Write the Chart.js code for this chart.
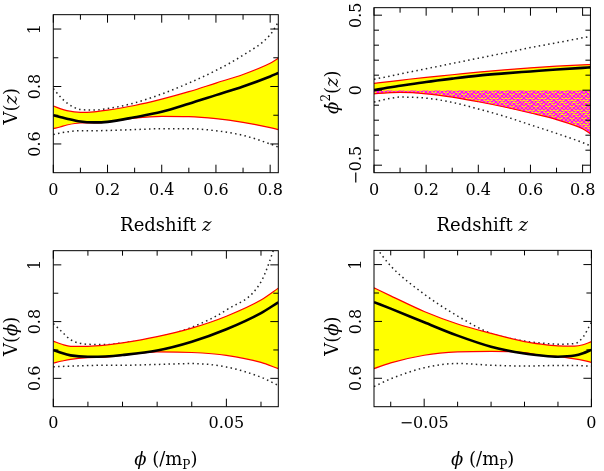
<!DOCTYPE html>
<html><head><meta charset="utf-8">
<script src="https://cdn.jsdelivr.net/npm/chart.js@4.4.0/dist/chart.umd.min.js"></script>
<style>
html,body{margin:0;padding:0;background:#fff;width:604px;height:471px;overflow:hidden}
canvas{position:absolute}
</style></head><body>
<canvas id="c1" style="left:0;top:0;width:302px;height:236px"></canvas>
<canvas id="c2" style="left:302px;top:0;width:302px;height:236px"></canvas>
<canvas id="c3" style="left:0;top:236px;width:302px;height:235px"></canvas>
<canvas id="c4" style="left:302px;top:236px;width:302px;height:235px"></canvas>
<script>
// ---------- data ----------
// Panel 1: V(z)
const z1      = [0, 0.025, 0.05, 0.1, 0.15, 0.2, 0.3, 0.4, 0.5, 0.6, 0.7, 0.8, 0.83];
const vzMean  = [0.700,0.694,0.688,0.678,0.675,0.677,0.693,0.712,0.740,0.770,0.800,0.835,0.847];
const vzUp    = [0.732,0.723,0.716,0.710,0.712,0.718,0.734,0.756,0.782,0.812,0.842,0.881,0.898];
const vzLo    = [0.653,0.659,0.666,0.673,0.673,0.677,0.690,0.696,0.695,0.688,0.675,0.657,0.650];
const vzDotUp = [0.793,0.765,0.743,0.720,0.718,0.723,0.743,0.774,0.812,0.856,0.909,0.980,1.024];
const vzDotLo = [0.633,0.638,0.642,0.646,0.646,0.647,0.650,0.653,0.653,0.646,0.630,0.600,0.589];
// Panel 2: phidot^2(z)
const z2      = [0, 0.05, 0.1, 0.2, 0.3, 0.4, 0.5, 0.6, 0.7, 0.8, 0.83];
const kzMean  = [0.000,0.016,0.029,0.055,0.077,0.097,0.112,0.125,0.138,0.149,0.152];
const kzUp    = [0.046,0.056,0.066,0.086,0.103,0.121,0.136,0.149,0.160,0.169,0.171];
const kzLo    = [-0.024,-0.018,-0.015,-0.024,-0.046,-0.077,-0.112,-0.152,-0.196,-0.257,-0.290];
const kzDotUp = [0.073,0.090,0.108,0.143,0.178,0.213,0.248,0.284,0.316,0.349,0.358];
const kzDotLo = [-0.079,-0.059,-0.046,-0.053,-0.081,-0.125,-0.174,-0.231,-0.288,-0.349,-0.371];
// Panel 3: V(phi), phi > 0
const p3      = [0, 0.0025, 0.005, 0.01, 0.015, 0.02, 0.03, 0.04, 0.05, 0.06, 0.065];
const vp3Mean = [0.700,0.689,0.681,0.676,0.677,0.682,0.698,0.729,0.773,0.830,0.868];
const vp3Up   = [0.731,0.720,0.713,0.713,0.717,0.725,0.747,0.777,0.819,0.876,0.918];
const vp3Lo   = [0.654,0.661,0.667,0.673,0.675,0.681,0.693,0.691,0.681,0.656,0.634];
const vp3DotUp= [0.793,0.764,0.736,0.720,0.719,0.725,0.744,0.780,0.841,0.940,1.100];
const vp3DotLo= [0.641,0.642,0.643,0.645,0.646,0.646,0.649,0.652,0.640,0.604,0.575];
// Panel 4: V(phi), phi < 0
const p4      = [-0.065,-0.06,-0.05,-0.04,-0.03,-0.02,-0.015,-0.01,-0.005,-0.0025,0];
const vp4Mean = [0.868,0.845,0.797,0.750,0.711,0.687,0.680,0.676,0.680,0.688,0.700];
const vp4Up   = [0.918,0.890,0.835,0.791,0.758,0.729,0.720,0.714,0.713,0.718,0.729];
const vp4Lo   = [0.634,0.654,0.681,0.693,0.695,0.690,0.680,0.676,0.668,0.663,0.656];
const vp4DotUp= [1.070,0.995,0.896,0.819,0.758,0.731,0.724,0.720,0.722,0.745,0.797];
const vp4DotLo= [0.571,0.598,0.637,0.652,0.646,0.643,0.644,0.645,0.645,0.644,0.643];

// tick values
const zMajor   = [0, 0.2, 0.4, 0.6, 0.8];
const zMinor   = [0.1, 0.3, 0.5, 0.7];
const vMajor   = [0.6, 0.8, 1];
const vMinor   = [0.7, 0.9];
const kMajor   = [-0.5, 0, 0.5];
const kMinor   = [-0.4, -0.3, -0.2, -0.1, 0.1, 0.2, 0.3, 0.4];
const p3Major  = [0, 0.05];
const p3Minor  = [0.01, 0.02, 0.03, 0.04, 0.06];
const p4Major  = [-0.05, 0];
const p4Minor  = [-0.06, -0.04, -0.03, -0.02, -0.01];

// ---------- helpers ----------
const FONT = '"DejaVu Serif", serif';
const TICK_SIZE = 16;
const zip = (xs, ys) => xs.map((x, i) => ({x, y: ys[i]}));
const fmt = v => (v < 0 ? '\u2212' + String(Math.abs(v)) : String(v));

const mctx = document.createElement('canvas').getContext('2d');
function widestLabel(vals) {
  mctx.font = TICK_SIZE + 'px ' + FONT;
  return Math.max(...vals.map(v => mctx.measureText(fmt(v)).width));
}

// magenta cross-hatch (4 css px period), device-pixel-ratio aware
function makeHatch() {
  const dpr = window.devicePixelRatio || 1;
  const T = 4, n = 3;            // tile = n periods
  const c = document.createElement('canvas');
  c.width = Math.round(T * n * dpr); c.height = c.width;
  const g = c.getContext('2d');
  g.scale(dpr, dpr);
  g.strokeStyle = '#ff00ff';
  g.lineWidth = 1.25;
  g.beginPath();
  const L = T * n;
  for (let k = -n; k <= 2 * n; k++) {
    const o = k * T;
    g.moveTo(o - L, -L); g.lineTo(o + 2 * L, 2 * L);        // "\" direction
    g.moveTo(o + L, -L); g.lineTo(o - 2 * L, 2 * L);        // "/" direction
  }
  g.stroke();
  const pat = g.createPattern(c, 'repeat');
  if (pat.setTransform) pat.setTransform(new DOMMatrix([1 / dpr, 0, 0, 1 / dpr, 0, 0]));
  return pat;
}

function drawRuns(ctx, runs, cx, cy, rot) {
  ctx.save();
  ctx.translate(cx, cy);
  if (rot) ctx.rotate(-Math.PI / 2);
  ctx.fillStyle = '#000';
  ctx.textBaseline = 'alphabetic';
  ctx.textAlign = 'left';
  const fontOf = r => (r.i ? 'italic ' : '') + (r.s || 18) + 'px ' + FONT;
  let w = 0;
  runs.forEach(r => { ctx.font = fontOf(r); r.w = ctx.measureText(r.t).width; w += r.w; });
  let x = -w / 2;
  runs.forEach(r => { ctx.font = fontOf(r); ctx.fillText(r.t, x, r.dy || 0); x += r.w; });
  ctx.restore();
}

const frameTicks = {
  id: 'frameTicks',
  afterDatasetsDraw(chart, args, o) {
    const {ctx, chartArea: a} = chart;
    const xs = chart.scales.x, ys = chart.scales.y;
    ctx.save();
    ctx.strokeStyle = '#000';
    ctx.lineWidth = 1;
    ctx.beginPath();
    const xt = (vals, len) => vals.forEach(v => {
      const p = xs.getPixelForValue(v);
      ctx.moveTo(p, a.bottom); ctx.lineTo(p, a.bottom - len);
      ctx.moveTo(p, a.top); ctx.lineTo(p, a.top + len);
    });
    const yt = (vals, len) => vals.forEach(v => {
      const p = ys.getPixelForValue(v);
      ctx.moveTo(a.left, p); ctx.lineTo(a.left + len, p);
      ctx.moveTo(a.right, p); ctx.lineTo(a.right - len, p);
    });
    xt(o.xMajor, 8); xt(o.xMinor, 5);
    yt(o.yMajor, 8); yt(o.yMinor, 5);
    ctx.stroke();
    ctx.strokeRect(a.left, a.top, a.right - a.left, a.bottom - a.top);
    ctx.restore();
  }
};

const richTitles = {
  id: 'richTitles',
  afterDraw(chart, args, o) {
    const {ctx, chartArea: a} = chart;
    drawRuns(ctx, o.xRuns, (a.left + a.right) / 2, a.bottom + o.xDy, false);
    drawRuns(ctx, o.yRuns, a.left - o.yDx, a.top + o.yDy, true);
  }
};

function panel(id, p) {
  const base = {pointRadius: 0, fill: false, cubicInterpolationMode: 'monotone'};
  const datasets = [
    Object.assign({}, base, {label: 'best fit', data: zip(p.x, p.mean), borderColor: '#000', borderWidth: 2.6}),
    Object.assign({}, base, {label: '1 sigma upper', data: zip(p.x, p.up), borderColor: '#ff0000', borderWidth: 1.2}),
    Object.assign({}, base, {label: '1 sigma lower', data: zip(p.x, p.lo), borderColor: '#ff0000', borderWidth: 1.2,
      fill: p.hatch ? {target: {value: 0}, above: 'rgba(0,0,0,0)', below: p.hatch} : false}),
    Object.assign({}, base, {label: 'band', data: zip(p.x, p.lo), borderWidth: 0, borderColor: 'rgba(0,0,0,0)',
      fill: 1, backgroundColor: '#ffff00'}),
    Object.assign({}, base, {label: '2 sigma upper', data: zip(p.x, p.dUp), borderColor: '#222', borderWidth: 1.5, borderDash: [1.5, 3.3]}),
    Object.assign({}, base, {label: '2 sigma lower', data: zip(p.x, p.dLo), borderColor: '#222', borderWidth: 1.5, borderDash: [1.5, 3.3]})
  ];
  // y tick labels are rotated and centred at p.yLabelX (canvas-local x)
  const yPad = p.yW - p.yLabelX - widestLabel(p.yMajor) / 2;
  return new Chart(document.getElementById(id), {
    type: 'line',
    data: {datasets},
    options: {
      responsive: false,
      animation: false,
      events: [],
      layout: {padding: {left: 0, top: p.pt, right: p.pr, bottom: 0}},
      plugins: {
        legend: {display: false},
        tooltip: {enabled: false},
        frameTicks: {xMajor: p.xMajor, xMinor: p.xMinor, yMajor: p.yMajor, yMinor: p.yMinor},
        richTitles: {xRuns: p.xRuns, yRuns: p.yRuns, xDy: p.xDy, yDx: p.yDx, yDy: p.yDy}
      },
      scales: {
        x: {
          type: 'linear', min: p.xmin, max: p.xmax,
          grid: {display: false, drawTicks: false}, border: {display: false},
          ticks: {font: {family: FONT, size: TICK_SIZE}, color: '#000', padding: p.xPad, maxRotation: 0,
                  autoSkip: false, includeBounds: false, callback: fmt},
          afterBuildTicks: s => { s.ticks = p.xMajor.map(v => ({value: v})); },
          afterFit: s => { s.height = p.xH; }
        },
        y: {
          type: 'linear', min: p.ymin, max: p.ymax,
          grid: {display: false, drawTicks: false}, border: {display: false},
          ticks: {font: {family: FONT, size: TICK_SIZE}, color: '#000', padding: yPad, minRotation: 90, maxRotation: 90,
                  crossAlign: 'center', autoSkip: false, includeBounds: false, callback: fmt},
          afterBuildTicks: s => { s.ticks = p.yMajor.map(v => ({value: v})); },
          afterFit: s => { s.width = p.yW; }
        }
      }
    },
    plugins: [frameTicks, richTitles]
  });
}

const redshiftRuns = () => [{t: 'Redshift '}, {t: 'z', i: true}];
const phiRuns = () => [{t: '\u03D5', i: true}, {t: ' (/m'}, {t: 'P', s: 12, dy: 4}, {t: ')'}];

panel('c1', {x: z1, mean: vzMean, up: vzUp, lo: vzLo, dUp: vzDotUp, dLo: vzDotLo,
  xmin: 0, xmax: 0.83, ymin: 0.5, ymax: 1.05,
  xMajor: zMajor, xMinor: zMinor, yMajor: vMajor, yMinor: vMinor,
  pt: 5.5, pr: 23.7, xH: 63.3, yW: 53.3, xPad: 8.5, yLabelX: 35.5,
  xRuns: redshiftRuns(), yRuns: [{t: 'V('}, {t: 'z', i: true}, {t: ')'}], xDy: 57.8, yDx: 36.8, yDy: 91.5});

panel('c2', {x: z2, mean: kzMean, up: kzUp, lo: kzLo, dUp: kzDotUp, dLo: kzDotLo, hatch: makeHatch(),
  xmin: 0, xmax: 0.83, ymin: -0.55, ymax: 0.55,
  xMajor: zMajor, xMinor: zMinor, yMajor: kMajor, yMinor: kMinor,
  pt: 5.5, pr: 4.7, xH: 63.3, yW: 72, xPad: 8.5, yLabelX: 54.5,
  xRuns: redshiftRuns(), yRuns: [{t: '\u03D5\u0307', i: true}, {t: '2', s: 12, dy: -8}, {t: '('}, {t: 'z', i: true}, {t: ')'}],
  xDy: 57.8, yDx: 36.5, yDy: 84.5});

panel('c3', {x: p3, mean: vp3Mean, up: vp3Up, lo: vp3Lo, dUp: vp3DotUp, dLo: vp3DotLo,
  xmin: 0, xmax: 0.065, ymin: 0.5, ymax: 1.05,
  xMajor: p3Major, xMinor: p3Minor, yMajor: vMajor, yMinor: vMinor,
  pt: 3.3, pr: 23.7, xH: 64.3, yW: 53.3, xPad: 7.5, yLabelX: 35.5,
  xRuns: phiRuns(), yRuns: [{t: 'V('}, {t: '\u03D5', i: true}, {t: ')'}], xDy: 58.3, yDx: 36.8, yDy: 85.7});

panel('c4', {x: p4, mean: vp4Mean, up: vp4Up, lo: vp4Lo, dUp: vp4DotUp, dLo: vp4DotLo,
  xmin: -0.065, xmax: 0, ymin: 0.5, ymax: 1.05,
  xMajor: p4Major, xMinor: p4Minor, yMajor: vMajor, yMinor: vMinor,
  pt: 3.3, pr: 4.7, xH: 64.3, yW: 72, xPad: 7.5, yLabelX: 54.5,
  xRuns: phiRuns(), yRuns: [{t: 'V('}, {t: '\u03D5', i: true}, {t: ')'}], xDy: 58.3, yDx: 36.5, yDy: 85.7});
</script>
</body></html>
